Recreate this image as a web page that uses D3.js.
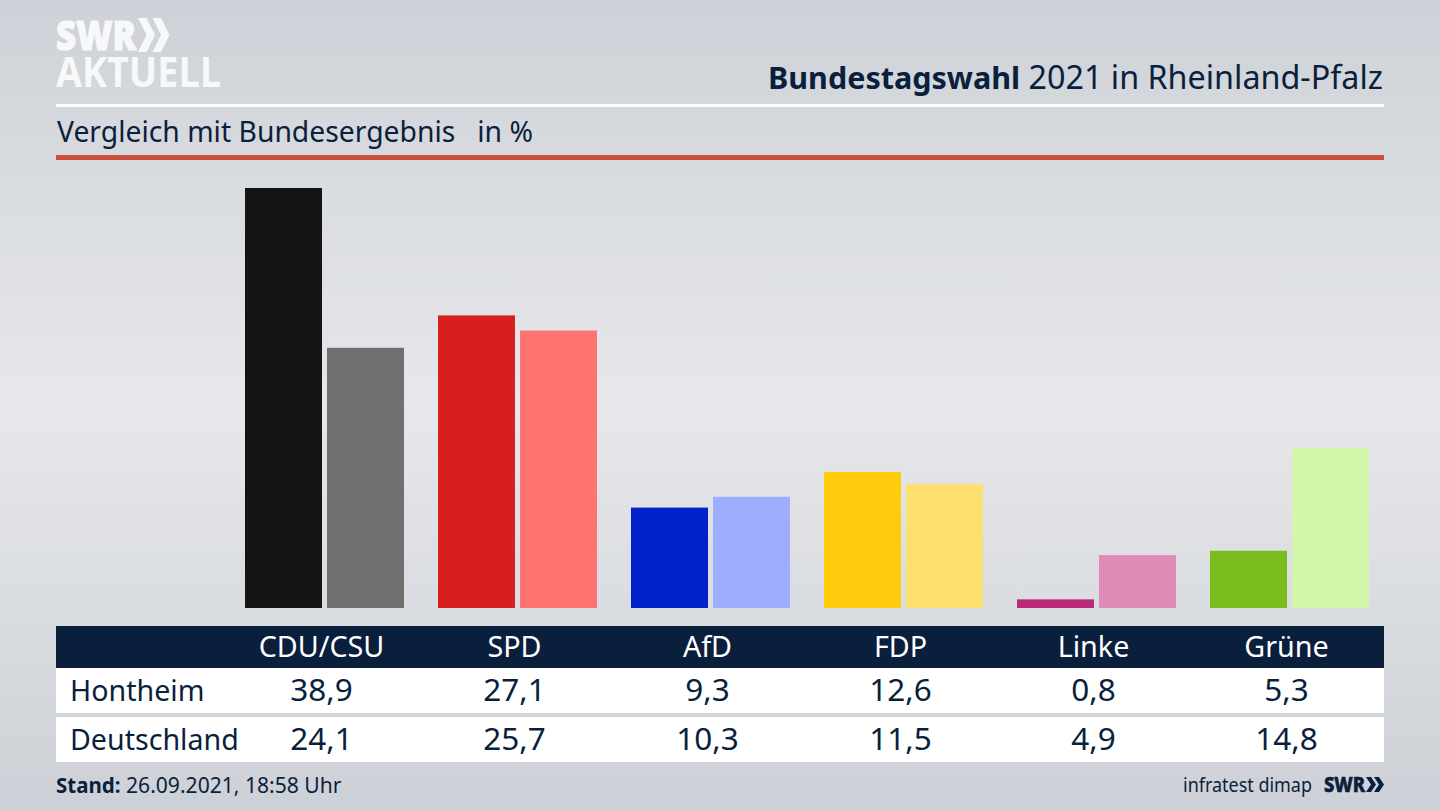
<!DOCTYPE html>
<html><head><meta charset="utf-8">
<script src="https://cdnjs.cloudflare.com/ajax/libs/d3/7.8.5/d3.min.js"></script>
<style>html,body{margin:0;padding:0;background:#d5d8dd;overflow:hidden}svg{display:block}text{font-family:"Noto Sans",sans-serif;fill:#0a1f3c}</style>
</head><body><svg id="c" width="1440" height="810"></svg>
<script>
const parties=["CDU/CSU","SPD","AfD","FDP","Linke","Grüne"];
const regional=[38.9,27.1,9.3,12.6,0.8,5.3];
const national=[24.1,25.7,10.3,11.5,4.9,14.8];
const regionalColors=["#141414","#d81f1f","#0022c8","#ffcb0a","#bb2a74","#78bd1c"];
const nationalColors=["#71706e","#ff7370","#9fadff","#fde06f","#e08ab7","#d3f6a8"];
const rowNames=["Hontheim","Deutschland"];
const fmt=v=>v.toFixed(1).replace(".",",");

const svg=d3.select("#c");
const defs=svg.append("defs");
const g=defs.append("linearGradient").attr("id","bg").attr("x1",0).attr("y1",0).attr("x2",0).attr("y2",1);
[[0,"#ced1d7"],[0.5,"#e6e8eb"],[1,"#cdd0d6"]].forEach(d=>g.append("stop").attr("offset",d[0]).attr("stop-color",d[1]));
svg.append("rect").attr("width",1440).attr("height",810).attr("fill","url(#bg)");

// logo
const chev=(s,x,y,w,h,t,fill)=>{[0,1].forEach(i=>{const o=x+i*t;
 s.append("path").attr("d",`M${o},${y}L${o+w*0.5},${y}L${o+w},${y+h/2}L${o+w*0.5},${y+h}L${o},${y+h}L${o+w*0.5},${y+h/2}Z`).attr("fill",fill);});};
const logo="#f7f8f9";
const lt=svg.append("text").style("fill",logo).style("font-family","'Open Sans',sans-serif");
lt.append("tspan").attr("x",56).attr("y",50).attr("font-size",40).attr("font-weight",800).attr("textLength",80).attr("lengthAdjust","spacingAndGlyphs").style("stroke",logo).style("stroke-width",1.2).text("SWR");
lt.append("tspan").attr("x",56).attr("y",87).attr("font-size",41).attr("font-weight",700).attr("textLength",165).attr("lengthAdjust","spacingAndGlyphs").text("AKTUELL");
chev(svg,138,18,17,34,14.5,logo);

// header
const title=svg.append("text").attr("x",1383).attr("y",89).attr("text-anchor","end");
title.append("tspan").attr("font-weight",700).attr("font-size",30.5).text("Bundestagswahl");
title.append("tspan").attr("font-size",32.3).text(" 2021 in Rheinland-Pfalz");
svg.append("rect").attr("x",56).attr("y",104).attr("width",1328).attr("height",3).attr("fill","#ffffff");
svg.append("text").attr("x",57).attr("y",142).attr("font-size",28.3).attr("xml:space","preserve").style("white-space","pre").text("Vergleich mit Bundesergebnis   in %");
svg.append("rect").attr("x",56).attr("y",155).attr("width",1328).attr("height",5).attr("fill","#c9503c");

// scales
const x0=d3.scaleBand().domain(parties).range([228,1386]).paddingInner(34/193).paddingOuter(17/193);
const x1=d3.scaleBand().domain([0,1]).range([0,x0.bandwidth()]).paddingInner(5/82).paddingOuter(0);
const y=d3.scaleLinear().domain([0,38.9]).range([608,188]);

const groups=svg.append("g").selectAll("g").data(parties).join("g").attr("transform",d=>`translate(${x0(d)},0)`);
groups.each(function(p,i){
  const s=d3.select(this);
  [[regional[i],regionalColors[i]],[national[i],nationalColors[i]]].forEach((d,k)=>{
    s.append("rect").attr("x",x1(k)).attr("y",y(d[0])).attr("width",x1.bandwidth()).attr("height",608-y(d[0])).attr("fill",d[1]);
  });
});

// table
svg.append("rect").attr("x",56).attr("y",626).attr("width",1328).attr("height",42).attr("fill","#0a1f3c");
svg.append("rect").attr("x",56).attr("y",668).attr("width",1328).attr("height",45).attr("fill","#ffffff");
svg.append("rect").attr("x",56).attr("y",717).attr("width",1328).attr("height",45).attr("fill","#ffffff");
const cx=p=>x0(p)+x0.bandwidth()/2-3;
svg.append("g").selectAll("text").data(parties).join("text").attr("x",cx).attr("y",657).attr("text-anchor","middle").attr("font-size",28.7).style("fill","#ffffff").text(d=>d);
[[regional,701],[national,750]].forEach(([vals,yy],r)=>{
  svg.append("text").attr("x",70).attr("y",yy).attr("font-size",28.6).text(rowNames[r]);
  svg.append("g").selectAll("text").data(vals).join("text").attr("x",(d,i)=>cx(parties[i])).attr("y",yy).attr("text-anchor","middle").attr("font-size",31.5).text(fmt);
});

// footer
const st=svg.append("text").attr("x",56).attr("y",793);
st.append("tspan").attr("font-weight",700).attr("font-size",20.5).text("Stand:");
st.append("tspan").attr("font-size",21.1).text(" 26.09.2021, 18:58 Uhr");
svg.append("text").attr("x",1183).attr("y",792).attr("font-size",19.5).attr("textLength",129).attr("lengthAdjust","spacingAndGlyphs").text("infratest dimap");
svg.append("text").attr("x",1324).attr("y",792).attr("font-size",21).attr("font-weight",800).attr("textLength",41).attr("lengthAdjust","spacingAndGlyphs").style("stroke","#0a1f3c").style("stroke-width",0.6).text("SWR");
chev(svg,1366,777,10,15,8,"#0a1f3c");
</script></body></html>
